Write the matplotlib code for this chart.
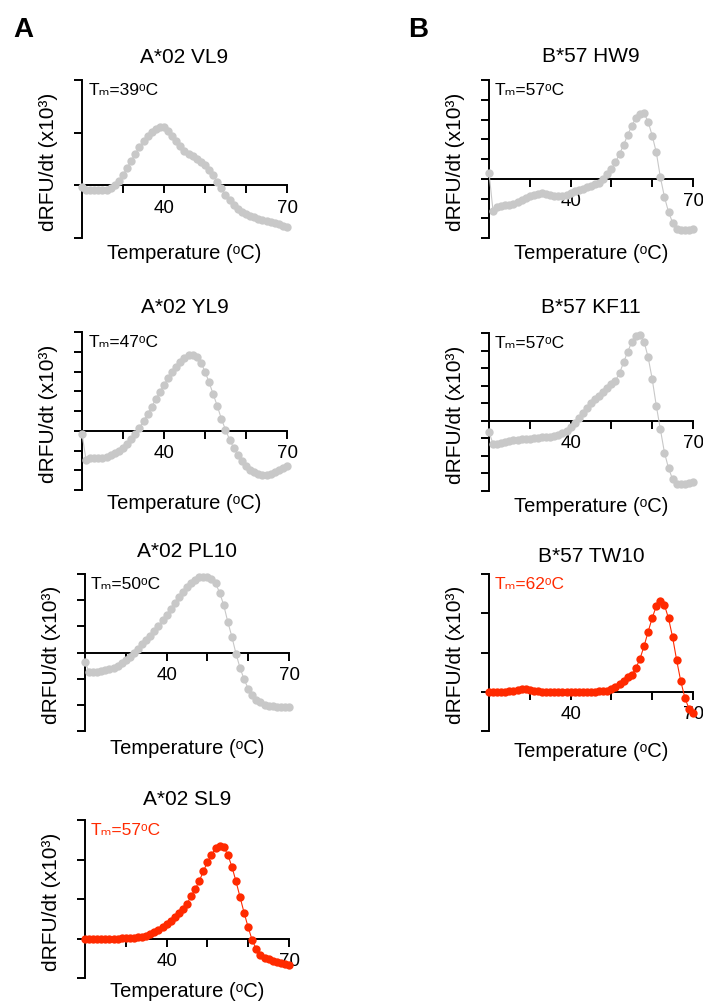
import matplotlib.pyplot as plt

plt.rcParams['font.family'] = ['Liberation Sans', 'DejaVu Sans']

# temperature steps (deg C)
temps = list(range(20, 71))

# dRFU/dt curves (arbitrary units)
vl9 = [-0.03, -0.08, -0.09, -0.09, -0.09, -0.09, -0.08, -0.05, 0.0, 0.08,
       0.2, 0.33, 0.47, 0.6, 0.73, 0.84, 0.93, 1.01, 1.07, 1.11,
       1.1, 1.04, 0.94, 0.85, 0.74, 0.66, 0.6, 0.55, 0.5, 0.44,
       0.38, 0.3, 0.19, 0.06, -0.06, -0.19, -0.28, -0.38, -0.45, -0.5,
       -0.55, -0.58, -0.61, -0.64, -0.66, -0.68, -0.7, -0.72, -0.74, -0.77, -0.79]
yl9 = [-0.15, -1.5, -1.4, -1.36, -1.36, -1.36, -1.33, -1.25, -1.13, -1.0,
       -0.85, -0.65, -0.42, -0.17, 0.15, 0.5, 0.85, 1.22, 1.6, 1.97,
       2.33, 2.65, 2.95, 3.23, 3.48, 3.68, 3.82, 3.85, 3.75, 3.45,
       3.0, 2.45, 1.85, 1.25, 0.6, 0.05, -0.45, -0.87, -1.21, -1.52,
       -1.78, -1.97, -2.1, -2.18, -2.22, -2.22, -2.18, -2.1, -2.0, -1.9, -1.8]
pl10 = [-0.36, -0.74, -0.74, -0.73, -0.7, -0.68, -0.64, -0.59, -0.51, -0.42,
        -0.29, -0.17, 0.0, 0.15, 0.31, 0.47, 0.64, 0.82, 1.02, 1.24,
        1.45, 1.68, 1.91, 2.13, 2.32, 2.5, 2.65, 2.78, 2.87, 2.88,
        2.89, 2.8, 2.64, 2.29, 1.81, 1.17, 0.6, -0.04, -0.59, -1.03,
        -1.38, -1.63, -1.8, -1.91, -1.99, -2.04, -2.06, -2.08, -2.09, -2.09, -2.09]
sl9 = [0.0, 0.0, 0.0, 0.0, 0.0, 0.0, 0.0, 0.0, 0.0, 0.01,
       0.01, 0.01, 0.02, 0.03, 0.04, 0.07, 0.11, 0.16, 0.22, 0.29,
       0.36, 0.45, 0.55, 0.65, 0.75, 0.88, 1.07, 1.25, 1.45, 1.7,
       1.93, 2.12, 2.28, 2.35, 2.32, 2.12, 1.82, 1.45, 1.05, 0.65,
       0.28, -0.05, -0.27, -0.42, -0.5, -0.53, -0.57, -0.6, -0.62, -0.64, -0.67]
hw9 = [0.3, -1.65, -1.43, -1.38, -1.34, -1.31, -1.26, -1.18, -1.06, -0.96,
       -0.87, -0.81, -0.76, -0.74, -0.76, -0.81, -0.87, -0.89, -0.87, -0.81,
       -0.72, -0.64, -0.57, -0.5, -0.44, -0.37, -0.29, -0.2, -0.03, 0.25,
       0.47, 0.84, 1.26, 1.71, 2.22, 2.69, 3.08, 3.28, 3.31, 2.89,
       2.18, 1.34, 0.08, -0.92, -1.68, -2.22, -2.52, -2.6, -2.6, -2.57, -2.52]
kf11 = [-0.63, -1.33, -1.3, -1.24, -1.2, -1.16, -1.12, -1.09, -1.05, -1.03,
        -1.01, -0.99, -0.97, -0.95, -0.93, -0.91, -0.88, -0.82, -0.7, -0.57,
        -0.38, -0.13, 0.13, 0.44, 0.74, 1.01, 1.24, 1.43, 1.62, 1.85,
        2.1, 2.29, 2.72, 3.33, 3.94, 4.48, 4.82, 4.9, 4.51, 3.62,
        2.38, 0.86, -0.48, -1.81, -2.7, -3.33, -3.58, -3.62, -3.58, -3.52, -3.47]
tw10 = [0.0, 0.0, 0.0, 0.0, 0.0, 0.01, 0.03, 0.05, 0.07, 0.07,
        0.05, 0.03, 0.01, -0.01, -0.01, -0.01, -0.01, -0.01, -0.01, -0.01,
        -0.01, -0.01, -0.01, -0.01, -0.01, -0.01, 0.0, 0.01, 0.01, 0.03,
        0.07, 0.12, 0.19, 0.27, 0.37, 0.43, 0.6, 0.84, 1.16, 1.53,
        1.88, 2.18, 2.31, 2.21, 1.87, 1.39, 0.8, 0.27, -0.15, -0.43, -0.53]

titles = ['A*02 VL9', 'A*02 YL9', 'A*02 PL10', 'A*02 SL9',
          'B*57 HW9', 'B*57 KF11', 'B*57 TW10']
tm_values = [39, 47, 50, 57, 57, 57, 62]
curves = [vl9, yl9, pl10, sl9, hw9, kf11, tw10]
y_ranges = [(-1, 2), (-3, 5), (-3, 3), (-1, 3), (-3, 5), (-4, 5), (-1, 3)]
stable = [False, False, False, True, False, False, True]

GRAY = '#c8c8c8'
RED = '#ff2a00'

W, H = 703, 1004
# axes boxes in pixels: x0, y0(top), x1, y1(bottom); title pad (pt); xlabel gap (px)
boxes = [(82, 81, 287, 239), (82, 333, 287, 491), (85, 575, 289, 732), (85, 821, 289, 979),
         (489, 81, 693, 239), (489, 334, 693, 492), (489, 575, 693, 732)]
title_pads = [13, 14.4, 13, 11.5, 13.7, 15, 9.5]
xlabel_gaps = [5, 3, 7, 3, 5, 5, 10]

fig = plt.figure(figsize=(W / 100, H / 100), dpi=100)

for i in range(7):
    x0, y0, x1, y1 = boxes[i]
    ax = fig.add_axes([x0 / W, 1 - y1 / H, (x1 - x0) / W, (y1 - y0) / H])
    color = RED if stable[i] else GRAY
    ax.plot(temps, curves[i], '-o', color=color, lw=0.8, ms=6, mew=0,
            clip_on=False, zorder=3)
    lo, hi = y_ranges[i]
    ax.set_xlim(20, 70)
    ax.set_ylim(lo, hi)
    ax.spines['bottom'].set_position(('data', 0))
    ax.spines['top'].set_visible(False)
    ax.spines['right'].set_visible(False)
    for s in ['left', 'bottom']:
        ax.spines[s].set_linewidth(1.4)
    ax.set_xticks([30, 40, 50, 60, 70])
    ax.set_xticklabels(['', '40', '', '', '70'])
    ax.set_yticks(list(range(lo, hi + 1)))
    ax.set_yticklabels([])
    ax.tick_params(direction='out', length=5.5, width=1.4, labelsize=13.5, pad=4)

    ax.set_title(titles[i], fontsize=15, pad=title_pads[i])
    ax.text(0.03, 0.985, 'T\u2098=%d\u1d52C' % tm_values[i],
            transform=ax.transAxes, ha='left', va='top', fontsize=12.5,
            color=RED if stable[i] else 'black')
    ax.set_xlabel('Temperature (\u1d52C)', fontsize=14.5)
    ax.xaxis.set_label_coords(0.5, -xlabel_gaps[i] / (y1 - y0))
    ax.set_ylabel('dRFU/dt (x10\u00b3)', fontsize=15)
    ax.yaxis.set_label_coords(-24 / (x1 - x0), 0.49)

fig.text(13 / W, 1 - 37 / H, 'A', fontsize=20, fontweight='bold', va='baseline')
fig.text(408 / W, 1 - 37 / H, 'B', fontsize=20, fontweight='bold', va='baseline')

plt.savefig('out.png', dpi=100)
